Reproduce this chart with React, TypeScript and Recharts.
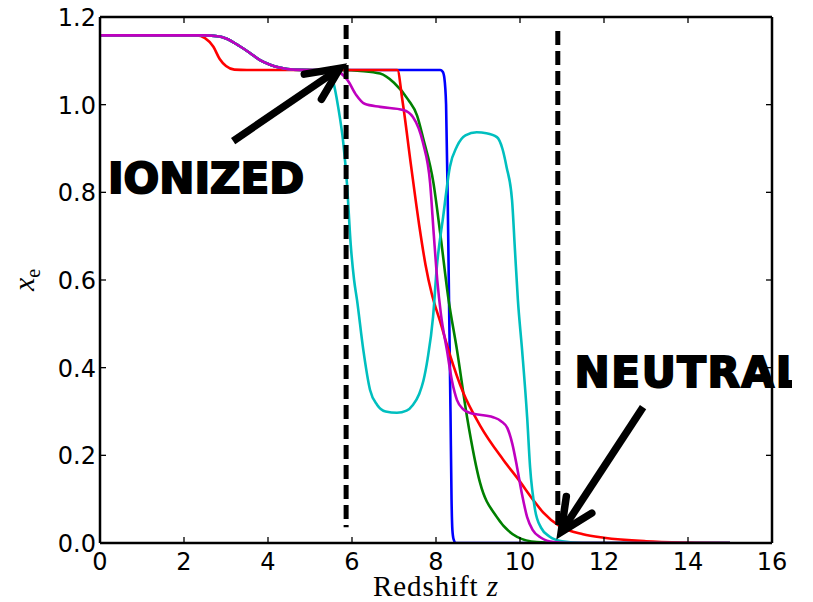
import React from 'react';
import { LineChart, Line, XAxis, YAxis, ReferenceLine, ReferenceDot } from 'recharts';

// ---- data (redshift z, ionized fraction x_e) ----
const blueZ = [0, 2.5, 2.8, 3.0, 3.3, 3.57, 3.8, 4.05, 4.3, 4.6, 5.0, 8.1, 8.16, 8.2, 8.24, 8.28, 8.31, 8.345, 8.37, 8.39, 8.42, 8.47, 15];
const blueXe = [1.158, 1.158, 1.156, 1.151, 1.135, 1.118, 1.102, 1.091, 1.084, 1.080, 1.079, 1.079, 1.075, 1.06, 1.0, 0.78, 0.554, 0.30, 0.10, 0.03, 0.008, 0, 0];

const greenZ = [0, 2.5, 2.8, 3.0, 3.3, 3.57, 3.8, 4.05, 4.3, 4.6, 5.0, 5.8, 6.2, 6.67, 7.0, 7.34, 7.55, 7.69, 7.94, 8.1, 8.29, 8.5, 8.74, 9.05, 9.45, 9.93, 10.4, 11.0, 15];
const greenXe = [1.158, 1.158, 1.156, 1.151, 1.135, 1.118, 1.102, 1.091, 1.084, 1.080, 1.079, 1.079, 1.077, 1.071, 1.05, 1.011, 0.975, 0.925, 0.821, 0.707, 0.561, 0.44, 0.287, 0.137, 0.059, 0.014, 0.002, 0, 0];

const redZ = [0, 2.3, 2.5, 2.7, 2.85, 3.0, 3.2, 3.5, 7.08, 7.2, 7.4, 7.6, 7.75, 7.9, 8.1, 8.33, 8.64, 9.05, 9.6, 10.0, 10.3, 10.55, 10.95, 11.5, 12.0, 13.0, 14.0, 15];
const redXe = [1.158, 1.158, 1.152, 1.132, 1.104, 1.088, 1.080, 1.079, 1.079, 1.01, 0.865, 0.725, 0.635, 0.568, 0.505, 0.43, 0.345, 0.268, 0.19, 0.14, 0.1, 0.07, 0.038, 0.02, 0.012, 0.004, 0.001, 0];

const cyanZ = [0, 2.5, 2.8, 3.0, 3.3, 3.57, 3.8, 4.05, 4.3, 4.6, 5.0, 5.3, 5.45, 5.55, 5.67, 5.79, 5.88, 5.97, 6.05, 6.12, 6.27, 6.43, 6.6, 6.8, 7.07, 7.3, 7.45, 7.6, 7.7, 7.8, 7.93, 8.02, 8.17, 8.33, 8.5, 8.7, 8.97, 9.2, 9.45, 9.58, 9.68, 9.81, 9.88, 9.95, 10.05, 10.17, 10.24, 10.36, 10.5, 10.7, 11.0, 11.5, 15];
const cyanXe = [1.158, 1.158, 1.156, 1.151, 1.135, 1.118, 1.102, 1.091, 1.084, 1.080, 1.079, 1.079, 1.07, 1.053, 0.995, 0.915, 0.82, 0.68, 0.6, 0.554, 0.44, 0.349, 0.315, 0.30, 0.297, 0.302, 0.315, 0.34, 0.37, 0.42, 0.516, 0.63, 0.744, 0.858, 0.905, 0.93, 0.937, 0.935, 0.926, 0.9, 0.858, 0.783, 0.668, 0.554, 0.44, 0.287, 0.173, 0.075, 0.035, 0.015, 0.004, 0, 0];

const purpleZ = [0, 2.5, 2.8, 3.0, 3.3, 3.57, 3.8, 4.05, 4.3, 4.6, 5.0, 5.5, 5.7, 5.9, 6.1, 6.3, 6.67, 7.22, 7.45, 7.69, 7.86, 7.95, 8.03, 8.12, 8.26, 8.38, 8.5, 8.65, 8.8, 9.36, 9.55, 9.7, 9.82, 9.93, 10.05, 10.17, 10.3, 10.5, 10.8, 11.2, 15];
const purpleXe = [1.158, 1.158, 1.156, 1.151, 1.135, 1.118, 1.102, 1.091, 1.084, 1.080, 1.079, 1.079, 1.074, 1.055, 1.022, 1.002, 0.995, 0.988, 0.972, 0.913, 0.821, 0.70, 0.60, 0.52, 0.44, 0.37, 0.326, 0.305, 0.297, 0.287, 0.278, 0.262, 0.225, 0.173, 0.11, 0.059, 0.03, 0.012, 0.002, 0, 0];

const xTicks = [0, 2, 4, 6, 8, 10, 12, 14, 16];
const yTicks = [0, 0.2, 0.4, 0.6, 0.8, 1.0, 1.2];

// annotations (data coordinates)
const dashedLines = [
  { z: 5.86, from: 0.036, to: 1.182 },
  { z: 10.9, from: 0.036, to: 1.168 },
];
const ionizedArrow = { tail: { z: 3.17, xe: 0.917 }, tip: { z: 5.71, xe: 1.083 } };
const neutralArrow = { tail: { z: 12.93, xe: 0.310 }, tip: { z: 10.98, xe: 0.025 } };
const ionizedText = { z: 0.19, xe: 0.799, label: 'IONIZED' };
const neutralText = { z: 11.3, xe: 0.356, label: 'NEUTRAL' };

const zip = (zs: number[], xs: number[]) => zs.map((z, i) => ({ z, xe: xs[i] }));
const blueData = zip(blueZ, blueXe);
const greenData = zip(greenZ, greenXe);
const redData = zip(redZ, redXe);
const cyanData = zip(cyanZ, cyanXe);
const purpleData = zip(purpleZ, purpleXe);

const TICK_FONT = 'DejaVu Sans';
const TICK_LEN = 6;

const BottomTick = (p: any) => (
  <g>
    <line x1={p.x} y1={p.y} x2={p.x} y2={p.y - TICK_LEN} stroke="#000" strokeWidth={1.3} />
    <text x={p.x} y={p.y + 27} textAnchor="middle" fontFamily={TICK_FONT} fontSize={24} fill="#000">
      {p.payload.value}
    </text>
  </g>
);
const TopTick = (p: any) => (
  <line x1={p.x} y1={p.y} x2={p.x} y2={p.y + TICK_LEN} stroke="#000" strokeWidth={1.3} />
);
const LeftTick = (p: any) => (
  <g>
    <line x1={p.x} y1={p.y} x2={p.x + TICK_LEN} y2={p.y} stroke="#000" strokeWidth={1.3} />
    <text x={p.x - 4} y={p.y + 9} textAnchor="end" fontFamily={TICK_FONT} fontSize={24} fill="#000">
      {Number(p.payload.value).toFixed(1)}
    </text>
  </g>
);
const RightTick = (p: any) => (
  <line x1={p.x} y1={p.y} x2={p.x - TICK_LEN} y2={p.y} stroke="#000" strokeWidth={1.3} />
);

const arrowShape = (p: any) => {
  const { x1, y1, x2, y2 } = p;
  const th = Math.atan2(y1 - y2, x1 - x2);
  const L = 36;
  const a = (25 * Math.PI) / 180;
  const bx1 = x2 + L * Math.cos(th + a);
  const by1 = y2 + L * Math.sin(th + a);
  const bx2 = x2 + L * Math.cos(th - a);
  const by2 = y2 + L * Math.sin(th - a);
  return (
    <g>
      <line x1={x1} y1={y1} x2={x2 + 3 * Math.cos(th)} y2={y2 + 3 * Math.sin(th)} stroke="#000" strokeWidth={7.5} />
      <path d={`M${bx1},${by1} L${x2},${y2} L${bx2},${by2}`} fill="none" stroke="#000" strokeWidth={7.5} strokeLinejoin="miter" strokeLinecap="round" />
    </g>
  );
};

const bigText = (label: string, spacing: number) => (p: any) => (
  <g>
    <defs>
      <clipPath id={`clip-${label}`}>
        <rect x={0} y={0} width={792} height={602} />
      </clipPath>
    </defs>
    <text
      x={p.cx}
      y={p.cy}
      clipPath={`url(#clip-${label})`}
      fontFamily="DejaVu Sans"
      fontWeight="bold"
      fontSize={42}
      letterSpacing={spacing}
      fill="#000"
      stroke="#000"
      strokeWidth={2}
    >
      {label}
    </text>
  </g>
);

const XLabel = (p: any) => {
  const vb = p.viewBox;
  return (
    <text x={vb.x + vb.width / 2} y={vb.y + 53} textAnchor="middle" fontFamily="Liberation Serif" fontSize={29} fill="#000" letterSpacing={0.9}>
      Redshift <tspan fontStyle="italic">z</tspan>
    </text>
  );
};
const YLabel = () => (
  <text x={34} y={280} transform="rotate(-90, 34, 280)" textAnchor="middle" fontFamily="Liberation Serif" fontSize={30} fill="#000">
    <tspan fontStyle="italic">x</tspan>
    <tspan fontSize={20} dy={6}>e</tspan>
  </text>
);

const LINE_W = 2.6;

export default function App() {
  return (
    <div style={{ position: 'absolute', left: 0, top: 0, width: 813, height: 602, background: '#fff' }}>
      <LineChart width={813} height={602} margin={{ top: 10, right: 30, bottom: 19, left: 40 }}>
        <XAxis
          xAxisId={0}
          dataKey="z"
          type="number"
          domain={[0, 16]}
          ticks={xTicks}
          interval={0}
          allowDataOverflow
          height={40}
          tickSize={0}
          tickMargin={0}
          tickLine={false}
          tick={<BottomTick />}
          axisLine={{ stroke: '#000', strokeWidth: 2.5 }}
          label={<XLabel />}
        />
        <XAxis
          xAxisId="top"
          orientation="top"
          dataKey="z"
          type="number"
          domain={[0, 16]}
          ticks={xTicks}
          interval={0}
          allowDataOverflow
          height={7}
          tickSize={0}
          tickMargin={0}
          tickLine={false}
          tick={<TopTick />}
          axisLine={{ stroke: '#000', strokeWidth: 2.5 }}
        />
        <YAxis
          yAxisId={0}
          type="number"
          domain={[0, 1.2]}
          ticks={yTicks}
          interval={0}
          allowDataOverflow
          width={60}
          tickSize={0}
          tickMargin={0}
          tickLine={false}
          tick={<LeftTick />}
          axisLine={{ stroke: '#000', strokeWidth: 2.5 }}
          label={<YLabel />}
        />
        <YAxis
          yAxisId="right"
          orientation="right"
          type="number"
          domain={[0, 1.2]}
          ticks={yTicks}
          interval={0}
          allowDataOverflow
          width={11}
          tickSize={0}
          tickMargin={0}
          tickLine={false}
          tick={<RightTick />}
          axisLine={{ stroke: '#000', strokeWidth: 2.5 }}
        />
        <Line data={blueData} dataKey="xe" type="monotone" stroke="#0000ff" strokeWidth={LINE_W} dot={false} isAnimationActive={false} />
        <Line data={greenData} dataKey="xe" type="monotone" stroke="#008000" strokeWidth={LINE_W} dot={false} isAnimationActive={false} />
        <Line data={redData} dataKey="xe" type="monotone" stroke="#ff0000" strokeWidth={LINE_W} dot={false} isAnimationActive={false} />
        <Line data={cyanData} dataKey="xe" type="monotone" stroke="#00bfbf" strokeWidth={LINE_W} dot={false} isAnimationActive={false} />
        <Line data={purpleData} dataKey="xe" type="monotone" stroke="#bf00bf" strokeWidth={LINE_W} dot={false} isAnimationActive={false} />
        {dashedLines.map((d, i) => (
          <ReferenceLine
            key={i}
            segment={[{ x: d.z, y: d.to }, { x: d.z, y: d.from }]}
            stroke="#000"
            strokeWidth={5}
            strokeDasharray="14 6"
            ifOverflow="visible"
          />
        ))}
        <ReferenceLine
          segment={[{ x: ionizedArrow.tail.z, y: ionizedArrow.tail.xe }, { x: ionizedArrow.tip.z, y: ionizedArrow.tip.xe }]}
          ifOverflow="visible"
          shape={arrowShape}
        />
        <ReferenceLine
          segment={[{ x: neutralArrow.tail.z, y: neutralArrow.tail.xe }, { x: neutralArrow.tip.z, y: neutralArrow.tip.xe }]}
          ifOverflow="visible"
          shape={arrowShape}
        />
        <ReferenceDot x={ionizedText.z} y={ionizedText.xe} r={0} ifOverflow="visible" shape={bigText(ionizedText.label, 0)} />
        <ReferenceDot x={neutralText.z} y={neutralText.xe} r={0} ifOverflow="visible" shape={bigText(neutralText.label, 1.6)} />
      </LineChart>
    </div>
  );
}
